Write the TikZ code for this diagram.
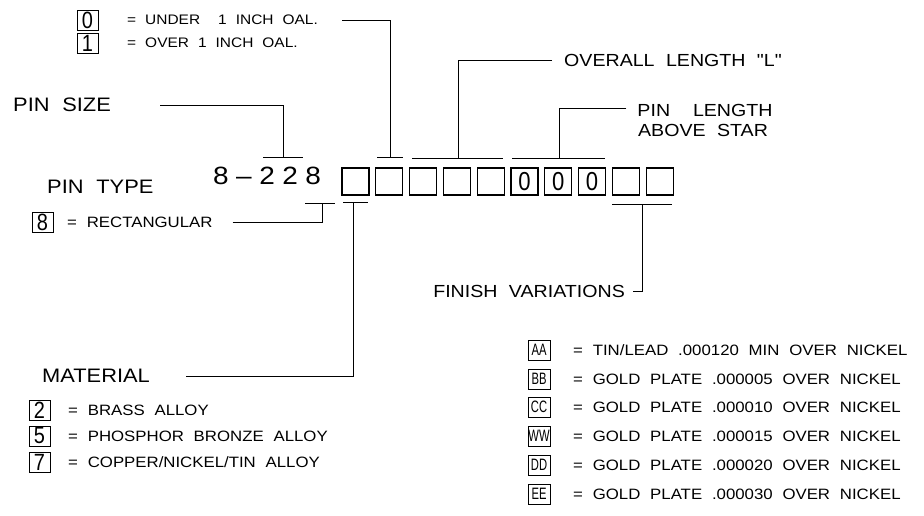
\documentclass[tikz,border=0pt]{standalone}
\usepackage{fontspec}
\newfontfamily\cadfont[FakeStretch=1.12,WordSpace=2.1]{Liberation Sans}
\newfontfamily\keyfont[FakeStretch=0.85]{Liberation Sans}
\newfontfamily\partfont[FakeStretch=1.12,LetterSpace=30]{Liberation Sans}
\usetikzlibrary{positioning}

\tikzset{
  slot/.style={draw, line width=1.1pt, minimum width=27pt, minimum height=27pt,
    inner sep=0pt, font=\keyfont\fontsize{26}{26}\selectfont},
  keybox/.style={draw, line width=0.9pt, minimum width=21pt, minimum height=20pt,
    inner sep=0pt, font=\keyfont\fontsize{23.5}{23.5}\selectfont},
  finbox/.style={draw, line width=0.9pt, minimum width=22pt, minimum height=20pt,
    inner sep=0pt, font=\keyfont\fontsize{16.5}{16.5}\selectfont},
  head/.style={inner sep=0pt, font=\cadfont\fontsize{19.5}{22}\selectfont},
  headr/.style={inner sep=0pt, font=\cadfont\fontsize{17.5}{20}\selectfont},
  item/.style={inner sep=0pt, anchor=west, font=\cadfont\fontsize{15}{15}\selectfont},
  lead/.style={line width=0.8pt},
}

\begin{document}
\begin{tikzpicture}[x=1pt,y=-1pt]
\useasboundingbox (0,0) rectangle (924,516);

% part number and the ten slots
\node[inner sep=0pt, anchor=base west, font=\partfont\fontsize{25}{25}\selectfont] (part) at (213,185) {8–228};
\foreach \i/\d in {1/{},2/{},3/{},4/{},5/{},6/0,7/0,8/0,9/{},10/{}}
    \node[slot] (s\i) at ({355.5+33.8*(\i-1)},181.5) {\d};

% bars over and under the slots
\coordinate (psm) at (283,157);
\coordinate (oalm) at (390,157);
\coordinate (ovm) at (458,158);
\coordinate (plm) at (559,158);
\coordinate (finm) at (642,204);
\coordinate (ptm) at (322,203);
\coordinate (matm) at (353,202);
\draw[lead] (263,157) -- (303,157);
\draw[lead] (377,157) -- (403,157);
\draw[lead] (412,158) -- (503,158);
\draw[lead] (512,158) -- (605,158);
\draw[lead] (612,204) -- (672,204);
\draw[lead] (305,203) -- (335,203);
\draw[lead] (343,202) -- (368,202);

% labels
\node[head, anchor=west] (pinsize) at (13,105) {PIN SIZE};
\node[head, anchor=west] (pintype) at (47,187) {PIN TYPE};
\node[head, anchor=west] (material) at (42,376) {MATERIAL};
\node[headr, anchor=west] (overall) at (564,60) {OVERALL LENGTH "L"};
\node[headr] (pl1) at (705,110) {PIN\ \ LENGTH};
\node[headr] (pl2) at (703,130) {ABOVE STAR};
\node[headr, anchor=east] (finish) at (625,291) {FINISH VARIATIONS};

% keys
\foreach \y/\k/\t/\name in {20/0/{UNDER\ \ 1 INCH OAL.}/under, 43/1/{OVER 1 INCH OAL.}/over}
{
    \node[keybox] (k\k) at (87.5,\y) {\k};
    \node[item, font=\cadfont\fontsize{13.8}{14}\selectfont] (\name) at (127,\y) {= \t};
}
\node[keybox] (k8) at (42.5,222) {8};
\node[item] (rect) at (67,222) {= RECTANGULAR};
\foreach \y/\k/\t in {410/2/BRASS ALLOY, 436/5/PHOSPHOR BRONZE ALLOY, 462/7/{COPPER/NICKEL/TIN ALLOY}}
{
    \node[keybox] (k\k) at (39.5,\y) {\k};
    \node[item] (m\k) at (68,\y) {= \t};
}
\foreach \y/\k/\t in {350/AA/{TIN/LEAD .000120 MIN OVER NICKEL},
    379/BB/GOLD PLATE .000005 OVER NICKEL,
    407/CC/GOLD PLATE .000010 OVER NICKEL,
    436/WW/GOLD PLATE .000015 OVER NICKEL,
    465/DD/GOLD PLATE .000020 OVER NICKEL,
    494/EE/GOLD PLATE .000030 OVER NICKEL}
{
    \node[finbox] (f\k) at (539,\y) {\scalebox{0.8}[1]{\k}};
    \node[item] (t\k) at (573,\y) {= \t};
}

% leaders
\draw[lead] ([xshift=49pt]pinsize.east) -| (psm);
\draw[lead] ([xshift=24pt]under.east) -| (oalm);
\draw[lead] ([xshift=-12pt]overall.west) -| (ovm);
\draw[lead] ([xshift=-11pt,yshift=2pt]pl1.west) -| (plm);
\draw[lead] (finm) |- ([xshift=8pt]finish.east);
\draw[lead] ([xshift=20pt]rect.east) -| (ptm);
\draw[lead] ([xshift=36pt]material.east) -| (matm);

\end{tikzpicture}
\end{document}
